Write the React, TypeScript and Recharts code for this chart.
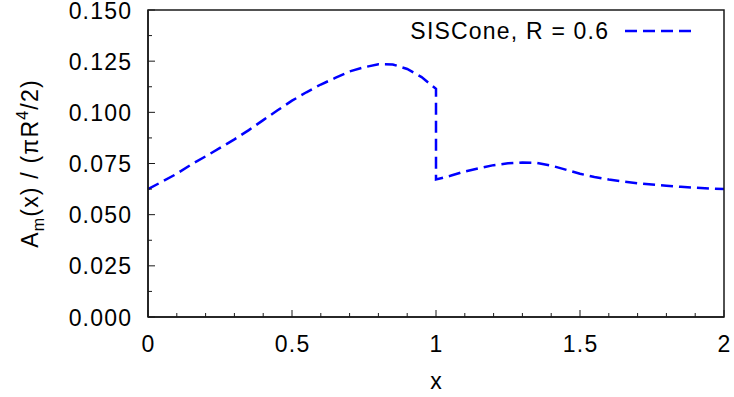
import { LineChart, Line, XAxis, YAxis, ReferenceArea } from "recharts";

const xs = [
  0, 0.05, 0.1, 0.15, 0.2, 0.25, 0.3, 0.35, 0.4, 0.45, 0.5, 0.55, 0.6, 0.65, 0.7, 0.75, 0.8,
  0.85, 0.9, 0.95, 0.975, 1, 1, 1.05, 1.1, 1.15, 1.2, 1.25, 1.3, 1.35, 1.4, 1.45, 1.5, 1.55,
  1.6, 1.65, 1.7, 1.75, 1.8, 1.85, 1.9, 1.95, 2,
];
const siscone = [
  0.0625, 0.0662, 0.07, 0.0745, 0.0785, 0.0826, 0.0868, 0.0913, 0.0962, 0.101, 0.1057, 0.1098,
  0.1136, 0.1168, 0.12, 0.122, 0.1235, 0.1234, 0.1212, 0.1172, 0.1143, 0.1115, 0.0672, 0.069,
  0.0711, 0.0727, 0.0742, 0.0751, 0.0755, 0.0753, 0.074, 0.072, 0.07, 0.0684, 0.0672, 0.0662,
  0.0653, 0.0647, 0.0641, 0.0636, 0.0632, 0.0628, 0.0625,
];
const xTicks = [
  0, 0.1, 0.2, 0.3, 0.4, 0.5, 0.6, 0.7, 0.8, 0.9, 1, 1.1, 1.2, 1.3, 1.4, 1.5, 1.6, 1.7, 1.8,
  1.9, 2,
];
const xMajor = [0, 0.5, 1, 1.5, 2];
const yTicks = [
  0, 0.0125, 0.025, 0.0375, 0.05, 0.0625, 0.075, 0.0875, 0.1, 0.1125, 0.125, 0.1375, 0.15,
];
const yMajor = [0, 0.025, 0.05, 0.075, 0.1, 0.125, 0.15];
const seriesName = "SISCone, R = 0.6";

const data = xs.map((x, i) => ({ x, y: siscone[i] }));

const W = 734;
const H = 397;
const LEFT = 148;
const TOP = 10;
const RIGHT = 724;
const BOTTOM = 317;
const FONT = "'Liberation Sans', Arial, sans-serif";
const FS = 23;
const LS = 1.2;
const AXIS = "#1a1a1a";
const BLUE = "#0000ff";
const DASH = "12 6";

const XTick = (props: any) => {
  const { x, payload } = props;
  const major = xMajor.includes(payload.value);
  const len = major ? 7 : 4;
  return (
    <g>
      <line x1={x} x2={x} y1={BOTTOM} y2={BOTTOM - len} stroke={AXIS} strokeWidth={1} />
      {major && (
        <text x={x + LS / 2} y={352} textAnchor="middle" fontFamily={FONT} fontSize={FS} letterSpacing={LS} fill="#000">
          {String(payload.value)}
        </text>
      )}
    </g>
  );
};

const TopTick = (props: any) => {
  const { x, payload } = props;
  const len = xMajor.includes(payload.value) ? 7 : 4;
  return <line x1={x} x2={x} y1={TOP} y2={TOP + len} stroke={AXIS} strokeWidth={1} />;
};

const YTick = (props: any) => {
  const { y, payload } = props;
  const major = yMajor.includes(payload.value);
  const len = major ? 7 : 4;
  return (
    <g>
      <line x1={LEFT} x2={LEFT + len} y1={y} y2={y} stroke={AXIS} strokeWidth={1} />
      {major && (
        <text x={131 + LS} y={y + 8.5} textAnchor="end" fontFamily={FONT} fontSize={FS} letterSpacing={LS} fill="#000">
          {payload.value.toFixed(3)}
        </text>
      )}
    </g>
  );
};

const RightTick = (props: any) => {
  const { y, payload } = props;
  const len = yMajor.includes(payload.value) ? 7 : 4;
  return <line x1={RIGHT} x2={RIGHT - len} y1={y} y2={y} stroke={AXIS} strokeWidth={1} />;
};

const YLabel = () => (
  <text
    transform={`translate(38, ${(TOP + BOTTOM) / 2}) rotate(-90)`}
    textAnchor="middle"
    fontFamily={FONT}
    fontSize={FS}
    letterSpacing={LS}
    fill="#000"
  >
    A
    <tspan dy={6} fontSize={16}>m</tspan>
    <tspan dy={-6}>(x) / (πR</tspan>
    <tspan dy={-10} fontSize={16}>4</tspan>
    <tspan dy={10}>/2)</tspan>
  </text>
);

// x label plus the key in the upper right
const XLabel = () => (
  <g>
    <text x={(LEFT + RIGHT) / 2} y={389} textAnchor="middle" fontFamily={FONT} fontSize={FS} fill="#000">
      x
    </text>
    <text x={608 + LS} y={39} textAnchor="end" fontFamily={FONT} fontSize={FS} letterSpacing={LS} fill="#000">
      {seriesName}
    </text>
    <line x1={625} x2={693} y1={31} y2={31} stroke={BLUE} strokeWidth={2.5} strokeDasharray={DASH} />
  </g>
);

// mirrored top/right axes drawn by a second, transparent chart laid over the first
function FrameChart() {
  return (
    <LineChart
      width={W}
      height={H}
      data={data}
      margin={{ top: TOP, right: W - RIGHT, bottom: H - BOTTOM, left: LEFT }}
    >
      <XAxis
        dataKey="x"
        type="number"
        orientation="top"
        domain={[0, 2]}
        allowDataOverflow
        ticks={xTicks}
        interval={0}
        height={0}
        tickLine={false}
        tick={<TopTick />}
        axisLine={{ stroke: AXIS, strokeWidth: 1.5 }}
      />
      <YAxis
        type="number"
        orientation="right"
        domain={[0, 0.15]}
        allowDataOverflow
        ticks={yTicks}
        interval={0}
        width={0}
        tickLine={false}
        tick={<RightTick />}
        axisLine={{ stroke: AXIS, strokeWidth: 1.5 }}
      />
      <ReferenceArea
        x1={0}
        x2={2}
        y1={0}
        y2={0.15}
        fill="none"
        stroke={AXIS}
        strokeWidth={1.5}
        ifOverflow="visible"
      />
      <Line dataKey="y" stroke="none" dot={false} activeDot={false} isAnimationActive={false} />
    </LineChart>
  );
}

export default function App() {
  return (
    <div style={{ position: "absolute", left: 0, top: 0, width: W, height: H, background: "#fff" }}>
      <LineChart width={W} height={H} data={data} margin={{ top: TOP, right: W - RIGHT, bottom: 0, left: 0 }}>
        <XAxis
          dataKey="x"
          type="number"
          domain={[0, 2]}
          ticks={xTicks}
          interval={0}
          height={H - BOTTOM}
          tickLine={false}
          tick={<XTick />}
          axisLine={{ stroke: AXIS, strokeWidth: 1.5 }}
          label={<XLabel />}
        />
        <YAxis
          type="number"
          domain={[0, 0.15]}
          ticks={yTicks}
          interval={0}
          width={LEFT}
          tickLine={false}
          tick={<YTick />}
          axisLine={{ stroke: AXIS, strokeWidth: 1.5 }}
          label={<YLabel />}
        />
        <Line
          dataKey="y"
          name={seriesName}
          type="linear"
          stroke={BLUE}
          strokeWidth={2.5}
          strokeDasharray={DASH}
          dot={false}
          activeDot={false}
          isAnimationActive={false}
        />
      </LineChart>
      <div style={{ position: "absolute", left: 0, top: 0, pointerEvents: "none" }}>
        <FrameChart />
      </div>
    </div>
  );
}
